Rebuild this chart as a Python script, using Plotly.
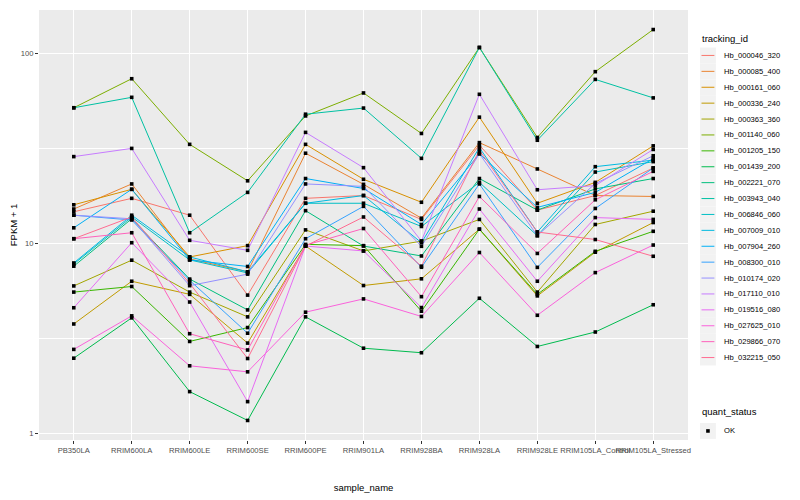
import math
import plotly.graph_objects as go

samples = ["PB350LA", "RRIM600LA", "RRIM600LE", "RRIM600SE", "RRIM600PE", "RRIM901LA",
           "RRIM928BA", "RRIM928LA", "RRIM928LE", "RRIM105LA_Control", "RRIM105LA_Stressed"]

tracking_ids = ["Hb_000046_320", "Hb_000085_400", "Hb_000161_060", "Hb_000336_240",
                "Hb_000363_360", "Hb_001140_060", "Hb_001205_150", "Hb_001439_200",
                "Hb_002221_070", "Hb_003943_040", "Hb_006846_060", "Hb_007009_010",
                "Hb_007904_260", "Hb_008300_010", "Hb_010174_020", "Hb_017110_010",
                "Hb_019516_080", "Hb_027625_010", "Hb_029866_070", "Hb_032215_050"]

hb_000046_320 = [14.7, 17.3, 14.1, 5.35, 17.3, 17.9, 13.4, 33.0, 15.0, 17.9, 25.0]
hb_000085_400 = [15.2, 20.6, 8.3, 7.1, 29.9, 20.5, 13.6, 34.0, 24.7, 17.9, 17.7]
hb_000161_060 = [16.0, 19.3, 8.5, 9.75, 33.3, 21.8, 16.5, 46.3, 16.3, 21.0, 32.7]
hb_000336_240 = [3.77, 6.33, 5.4, 2.99, 9.7, 6.01, 6.52, 11.9, 5.3, 9.0, 12.9]
hb_000363_360 = [5.98, 8.17, 5.55, 4.11, 11.8, 9.14, 10.3, 13.4, 5.55, 12.6, 14.8]
hb_001140_060 = [51.9, 73.8, 33.3, 21.4, 47.0, 62.1, 38.0, 107.8, 36.2, 80.4, 134.0]
hb_001205_150 = [5.55, 5.94, 3.05, 3.61, 9.9, 9.75, 4.4, 11.9, 5.4, 9.1, 11.6]
hb_001439_200 = [2.49, 4.06, 1.66, 1.17, 4.11, 2.81, 2.66, 5.15, 2.87, 3.42, 4.76]
hb_002221_070 = [7.6, 13.5, 6.5, 4.47, 14.9, 9.7, 8.6, 22.0, 15.0, 19.4, 22.0]
hb_003943_040 = [51.9, 58.9, 11.4, 18.6, 48.0, 51.7, 28.1, 107.8, 35.0, 73.2, 58.5]
hb_006846_060 = [7.8, 13.8, 8.2, 7.0, 16.3, 16.3, 12.3, 21.0, 11.0, 23.8, 27.0]
hb_007009_010 = [7.9, 14.1, 8.5, 7.1, 16.3, 17.9, 10.1, 32.0, 11.5, 25.4, 27.5]
hb_007904_260 = [12.1, 19.3, 8.2, 7.57, 22.0, 19.5, 12.6, 29.7, 15.5, 18.6, 28.0]
hb_008300_010 = [14.1, 13.3, 6.4, 3.37, 10.6, 15.7, 7.5, 20.6, 7.49, 15.3, 25.0]
hb_010174_020 = [14.1, 13.5, 6.0, 6.9, 20.6, 20.0, 9.67, 29.7, 11.0, 20.7, 29.0]
hb_017110_010 = [28.7, 31.7, 10.4, 9.21, 38.5, 25.1, 10.3, 61.1, 19.2, 20.2, 31.3]
hb_019516_080 = [4.59, 10.1, 4.92, 1.47, 9.7, 9.14, 4.6, 15.2, 6.33, 13.7, 13.4]
hb_027625_010 = [2.77, 4.16, 2.27, 2.11, 4.35, 5.11, 4.13, 8.97, 4.19, 7.03, 9.82]
hb_029866_070 = [10.6, 11.4, 3.35, 2.75, 9.8, 12.0, 5.25, 17.7, 8.87, 17.0, 24.0]
hb_032215_050 = [10.6, 13.8, 6.17, 2.48, 9.7, 13.8, 7.6, 31.0, 11.5, 10.5, 8.57]

series = [hb_000046_320, hb_000085_400, hb_000161_060, hb_000336_240, hb_000363_360,
          hb_001140_060, hb_001205_150, hb_001439_200, hb_002221_070, hb_003943_040,
          hb_006846_060, hb_007009_010, hb_007904_260, hb_008300_010, hb_010174_020,
          hb_017110_010, hb_019516_080, hb_027625_010, hb_029866_070, hb_032215_050]

quant_status = ["OK"]

colors = ["#F8766D", "#EA8331", "#D89000", "#C09B00", "#A3A500", "#7CAE00", "#39B600",
          "#00BB4E", "#00BF7D", "#00C1A3", "#00BFC4", "#00BAE0", "#00B0F6", "#35A2FF",
          "#9590FF", "#C77CFF", "#E76BF3", "#FA62DB", "#FF62BC", "#FF6C91"]

FONT = "Liberation Sans"
W, H = 800, 500
L, R, T, B = 31, 680, 2, 432          # panel edges in pixels
PW, PH = R - L, B - T


def px(x):
    return (x - L) / PW


def py(y):
    return (B - y) / PH


fig = go.Figure()
for name, vals, col in zip(tracking_ids, series, colors):
    fig.add_trace(go.Scatter(x=samples, y=vals, mode="lines", name=name,
                             line=dict(color=col, width=1.0), showlegend=False))

all_x = [s for vals in series for s in samples]
all_y = [v for vals in series for v in vals]
fig.add_trace(go.Scatter(x=all_x, y=all_y, mode="markers", name=quant_status[0],
                         marker=dict(symbol="square", size=3.6, color="black"),
                         showlegend=False))

lo = math.log10(min(all_y))
hi = math.log10(max(all_y))
pad = (hi - lo) * 0.05

# ---- manual ggplot-style legends ----
shapes = []
annotations = []
key = 15.9
kx0 = 692
ty0 = 31
annotations.append(dict(x=px(kx0), y=py(ty0), xref="paper", yref="paper",
                        text="tracking_id", showarrow=False, xanchor="left",
                        yanchor="middle", font=dict(size=9.5, color="black")))
top0 = 39.5
for i, (name, col) in enumerate(zip(tracking_ids, colors)):
    y0 = top0 + i * key
    shapes.append(dict(type="rect", xref="paper", yref="paper",
                       x0=px(kx0), x1=px(kx0 + key), y0=py(y0 + key), y1=py(y0),
                       fillcolor="#F2F2F2", line=dict(width=0), layer="below"))
    shapes.append(dict(type="line", xref="paper", yref="paper",
                       x0=px(kx0 + 1.5), x1=px(kx0 + key - 1.5),
                       y0=py(y0 + key / 2), y1=py(y0 + key / 2),
                       line=dict(color=col, width=1.0)))
    annotations.append(dict(x=px(kx0 + key + 6), y=py(y0 + key / 2), xref="paper",
                            yref="paper", text=name, showarrow=False, xanchor="left",
                            yanchor="middle", font=dict(size=7.6, color="black")))

qy = 403
annotations.append(dict(x=px(kx0), y=py(qy), xref="paper", yref="paper",
                        text="quant_status", showarrow=False, xanchor="left",
                        yanchor="middle", font=dict(size=9.5, color="black")))
qk0 = 415
shapes.append(dict(type="rect", xref="paper", yref="paper",
                   x0=px(kx0), x1=px(kx0 + key), y0=py(qk0 + key), y1=py(qk0),
                   fillcolor="#F2F2F2", line=dict(width=0), layer="below"))
shapes.append(dict(type="rect", xref="paper", yref="paper",
                   x0=px(kx0 + key / 2 - 1.8), x1=px(kx0 + key / 2 + 1.8),
                   y0=py(qk0 + key / 2 + 1.8), y1=py(qk0 + key / 2 - 1.8),
                   fillcolor="black", line=dict(width=0)))
annotations.append(dict(x=px(kx0 + key + 6), y=py(qk0 + key / 2), xref="paper",
                        yref="paper", text=quant_status[0], showarrow=False,
                        xanchor="left", yanchor="middle",
                        font=dict(size=7.6, color="black")))

fig.update_layout(
    width=W, height=H,
    margin=dict(l=L, r=W - R, t=T, b=H - B),
    paper_bgcolor="white", plot_bgcolor="#EBEBEB",
    font=dict(family=FONT, size=9.5, color="black"),
    xaxis=dict(type="category", range=[-0.6, len(samples) - 0.4],
               showgrid=True, gridcolor="white", gridwidth=1.0,
               ticks="outside", ticklen=3, tickcolor="#333333", tickangle=0,
               tickfont=dict(size=7.6, color="#4D4D4D"),
               title=dict(text="sample_name", font=dict(size=9.5), standoff=30),
               zeroline=False, showline=False),
    yaxis=dict(type="log", range=[lo - pad, hi + pad],
               tickvals=[1, 10, 100], ticktext=["1", "10", "100"],
               showgrid=True, gridcolor="white", gridwidth=1.0,
               minor=dict(tickmode="array", tickvals=[10 ** 0.5, 10 ** 1.5],
                          showgrid=True, gridcolor="white", gridwidth=0.5, ticks=""),
               ticks="outside", ticklen=3, tickcolor="#333333",
               tickfont=dict(size=7.6, color="#4D4D4D"),
               title=dict(text="FPKM + 1", font=dict(size=9.5), standoff=5),
               zeroline=False, showline=False),
    shapes=shapes,
    annotations=annotations,
    showlegend=False,
)

fig.write_html("out.html")
